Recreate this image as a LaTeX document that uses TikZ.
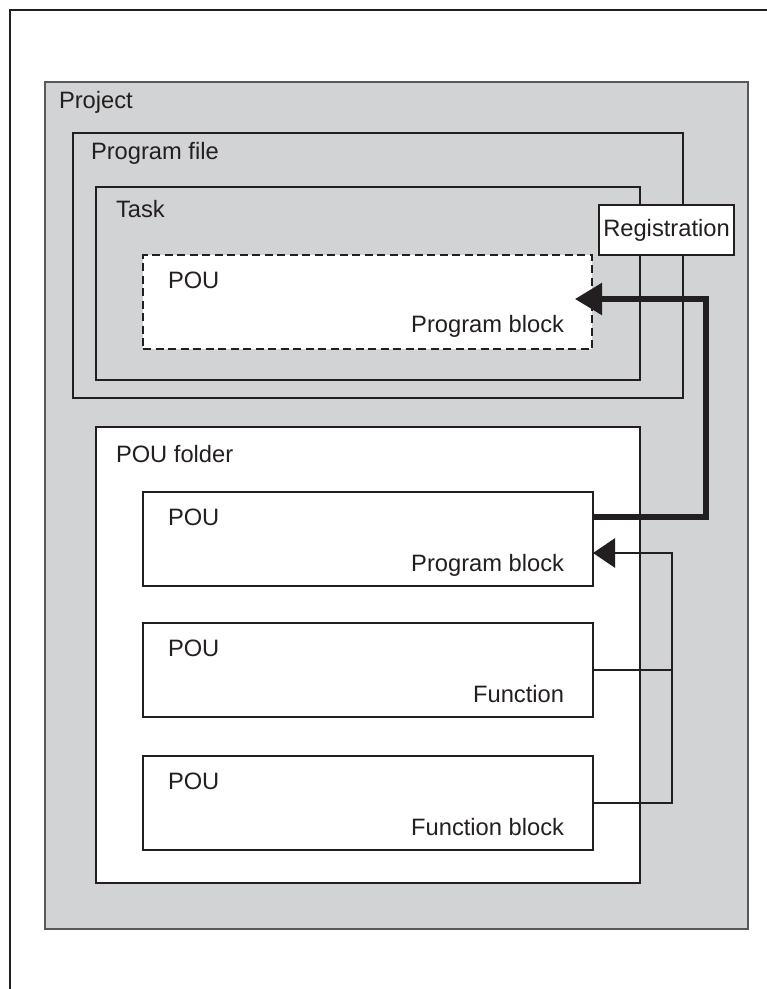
\documentclass[tikz,border=0pt]{standalone}
\usepackage{fontspec}
\setmainfont{Liberation Sans}
\usepackage{tikz}
\usetikzlibrary{arrows.meta,calc,positioning}
\definecolor{projgray}{RGB}{209,211,212}
\definecolor{inkgray}{RGB}{35,31,32}

\begin{document}
\begin{tikzpicture}[x=1pt,y=-1pt,
    every node/.style={inner sep=0pt,outer sep=0pt,text=inkgray,font=\fontsize{23.7}{28}\selectfont},
    box/.style={draw=inkgray,line width=1.8pt,fill=white},
    label/.style={anchor=base west},
    tag/.style={anchor=base east}]
  \useasboundingbox (0,0) rectangle (767,989);
  \draw[inkgray,line width=2.8pt] (10,989) -- (10,10) -- (770,10);
  % nested containers
  \node[box,fill=projgray,draw=inkgray!75,line width=1.8pt,minimum width=703pt,minimum height=847pt] (project) at (396.5,505.5) {};
  \node[box,fill=projgray,line width=2.9pt,minimum width=610pt,minimum height=265pt] (progfile) at (378,265.5) {};
  \node[box,fill=projgray,minimum width=544pt,minimum height=193pt] (task) at (368,283.5) {};
  \node[box,line width=2.9pt,dash pattern=on 8pt off 4.5pt,minimum width=449pt,minimum height=94pt] (taskpou) at (367.5,302) {};
  \node[box,minimum width=135pt,minimum height=50pt] (reg) at (666.5,230) {Registration};
  \node[box,line width=2.9pt,minimum width=544pt,minimum height=456pt] (folder) at (368,655) {};
  \foreach \i/\y/\kind in {1/539/Program block,2/670/Function,3/803/Function block}{
    \node[box,minimum width=450pt,minimum height=94pt] (pou\i) at (368,\y) {};
    \node[label] (poulab\i) at ([xshift=25pt,yshift=-33pt]pou\i.north west) {POU};
    \node[tag] (kind\i) at ([xshift=-29pt,yshift=15pt]pou\i.south east) {\kind};
  }
  \node[label] (projlab) at ([xshift=14pt,yshift=-26pt]project.north west) {Project};
  \node[label] (filelab) at ([xshift=18pt,yshift=-26pt]progfile.north west) {Program file};
  \node[label] (tasklab) at ([xshift=20pt,yshift=-30pt]task.north west) {Task};
  \node[label] (poulab0) at ([xshift=25pt,yshift=-33pt]taskpou.north west) {POU};
  \node[tag] (kind0) at ([xshift=-28pt,yshift=17pt]taskpou.south east) {Program block};
  \node[label] (folderlab) at ([xshift=20pt,yshift=-35pt]folder.north west) {POU folder};
  % connectors
  \coordinate (regbus) at (706,0);
  \coordinate (fbus) at (672,0);
  \draw[inkgray,line width=5.5pt,-{Triangle[length=27pt,width=31pt]}]
    ([yshift=22pt]pou1.east) -| (regbus |- 0,299) -- ([xshift=-17pt]taskpou.east |- 0,299);
  \draw[inkgray,line width=2.7pt] (pou2.east) -- (pou2.east -| fbus);
  \draw[inkgray,line width=2.7pt,-{Triangle[length=22pt,width=29pt]}]
    (pou3.east) -| (fbus |- 0,553) -- (pou1.east |- 0,553);
\end{tikzpicture}
\end{document}
